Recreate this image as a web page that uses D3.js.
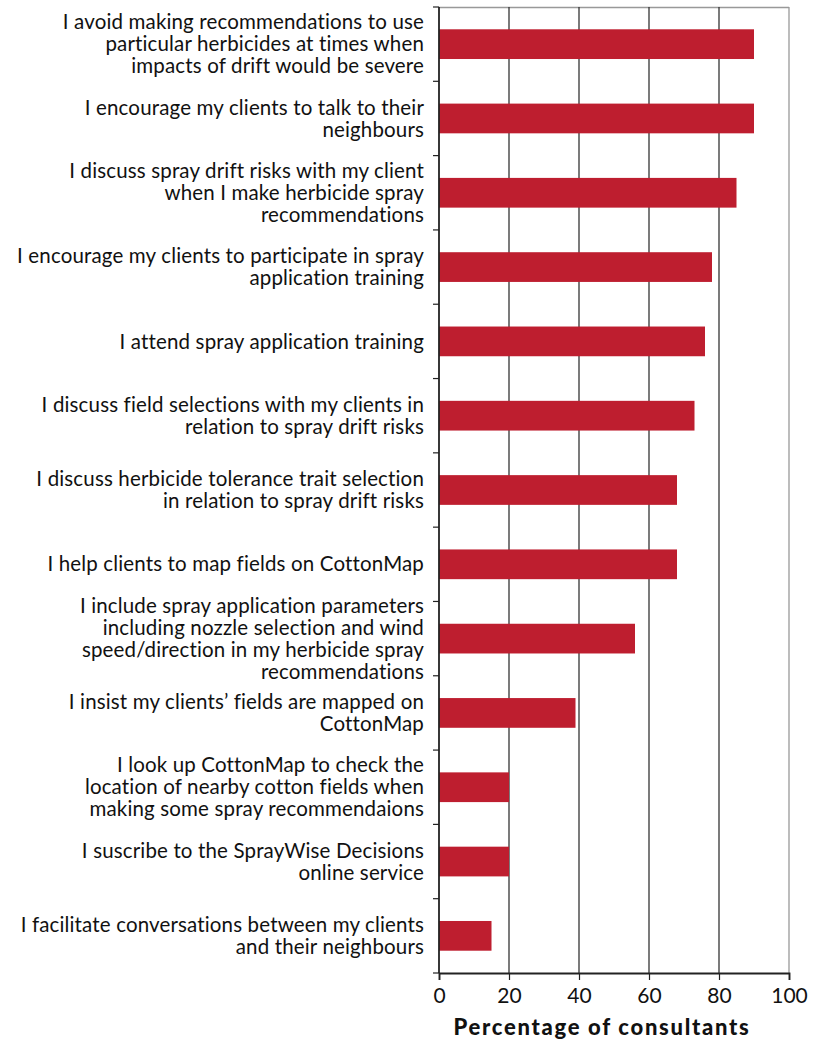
<!DOCTYPE html>
<html>
<head>
<meta charset="utf-8">
<script src="https://cdn.jsdelivr.net/npm/d3@7"></script>
<style>
  body { margin: 0; background: #fff; }
  text { font-family: Lato, "Open Sans", sans-serif; fill: #111; }
</style>
</head>
<body>
<div id="chart"></div>
<script>
const width = 817
const height = 1041

// survey statements, top to bottom (each entry is the wrapped lines)
const statements = [
  ["I avoid making recommendations to use", "particular herbicides at times when", "impacts of drift would be severe"],
  ["I encourage my clients to talk to their", "neighbours"],
  ["I discuss spray drift risks with my client", "when I make herbicide spray", "recommendations"],
  ["I encourage my clients to participate in spray", "application training"],
  ["I attend spray application training"],
  ["I discuss field selections with my clients in", "relation to spray drift risks"],
  ["I discuss herbicide tolerance trait selection", "in relation to spray drift risks"],
  ["I help clients to map fields on CottonMap"],
  ["I include spray application parameters", "including nozzle selection and wind", "speed/direction in my herbicide spray", "recommendations"],
  ["I insist my clients\u2019 fields are mapped on", "CottonMap"],
  ["I look up CottonMap to check the", "location of nearby cotton fields when", "making some spray recommendaions"],
  ["I suscribe to the SprayWise Decisions", "online service"],
  ["I facilitate conversations between my clients", "and their neighbours"]
];
const percent = [90, 90, 85, 78, 76, 73, 68, 68, 56, 39, 20, 20, 15];
const xTicks = [0, 20, 40, 60, 80, 100];
const xTitle = "Percentage of consultants";

const margin = {top: 7, right: 28, bottom: 68, left: 439};
const plotW = width - margin.left - margin.right;
const plotH = height - margin.top - margin.bottom;

const svg = d3.select('#chart').append('svg')
  .attr('width', width).attr('height', height);

const g = svg.append('g')
  .attr('transform', 'translate(' + margin.left + ',' + margin.top + ')');

const x = d3.scaleLinear().domain([0, 100]).range([0, plotW]);
const y = d3.scaleBand()
  .domain(d3.range(statements.length))
  .range([0, plotH])
  .paddingInner(0.6)
  .paddingOuter(0.3);

// top border
g.append('line')
  .attr('x1', 0).attr('x2', plotW)
  .attr('y1', 0.5).attr('y2', 0.5)
  .attr('stroke', '#999').attr('stroke-width', 1.5);

// vertical gridlines
g.selectAll('.grid')
  .data(xTicks.filter(d => d > 0))
  .enter().append('line')
  .attr('class', 'grid')
  .attr('x1', d => x(d)).attr('x2', d => x(d))
  .attr('y1', 0).attr('y2', plotH)
  .attr('stroke', d => d === 100 ? '#999' : '#333')
  .attr('stroke-width', 1.3);

// bars
g.selectAll('.bar')
  .data(percent)
  .enter().append('rect')
  .attr('class', 'bar')
  .attr('x', 0)
  .attr('y', (d, i) => y(i))
  .attr('width', d => x(d))
  .attr('height', y.bandwidth())
  .attr('fill', '#be1e2f');

// left axis with ticks at category boundaries
const step = y.step();
const bounds = d3.range(statements.length + 1).map(i => i * step);
g.append('line')
  .attr('x1', 0).attr('x2', 0)
  .attr('y1', 0).attr('y2', plotH)
  .attr('stroke', '#222').attr('stroke-width', 1.8);
g.selectAll('.ytick')
  .data(bounds)
  .enter().append('line')
  .attr('class', 'ytick')
  .attr('x1', -6).attr('x2', 0)
  .attr('y1', d => d).attr('y2', d => d)
  .attr('stroke', '#222').attr('stroke-width', 1.2);

// category labels
const lineH = 22;
const labels = g.selectAll('.label')
  .data(statements)
  .enter().append('text')
  .attr('class', 'label')
  .attr('text-anchor', 'end')
  .style('font-size', '20.5px')
  .style('letter-spacing', '0.15px')
  .attr('transform', (d, i) => 'translate(-15,' + (y(i) + y.bandwidth() / 2) + ')');

labels.selectAll('tspan')
  .data(d => d.map((t, k) => ({t: t, k: k, n: d.length})))
  .enter().append('tspan')
  .attr('x', 0)
  .attr('y', d => (d.k - (d.n - 1) / 2) * lineH)
  .attr('dy', '0.35em')
  .text(d => d.t);

// bottom axis
const xAxis = g.append('g')
  .attr('transform', 'translate(0,' + plotH + ')')
  .call(d3.axisBottom(x).tickValues(xTicks).tickSize(7).tickPadding(8));
xAxis.select('.domain').attr('stroke', '#222').attr('stroke-width', 1.8);
xAxis.selectAll('.tick line').attr('stroke', '#222').attr('stroke-width', 1.2);
xAxis.selectAll('.tick text')
  .style('font-family', 'Lato, sans-serif')
  .style('font-size', '21px')
  .attr('fill', '#111');

svg.append('text')
  .attr('x', margin.left + plotW / 2 - 12)
  .attr('y', margin.top + plotH + 62)
  .attr('text-anchor', 'middle')
  .style('font-size', '22px')
  .style('font-weight', '900')
  .style('letter-spacing', '1.7px')
  .text(xTitle);
</script>
</body>
</html>
